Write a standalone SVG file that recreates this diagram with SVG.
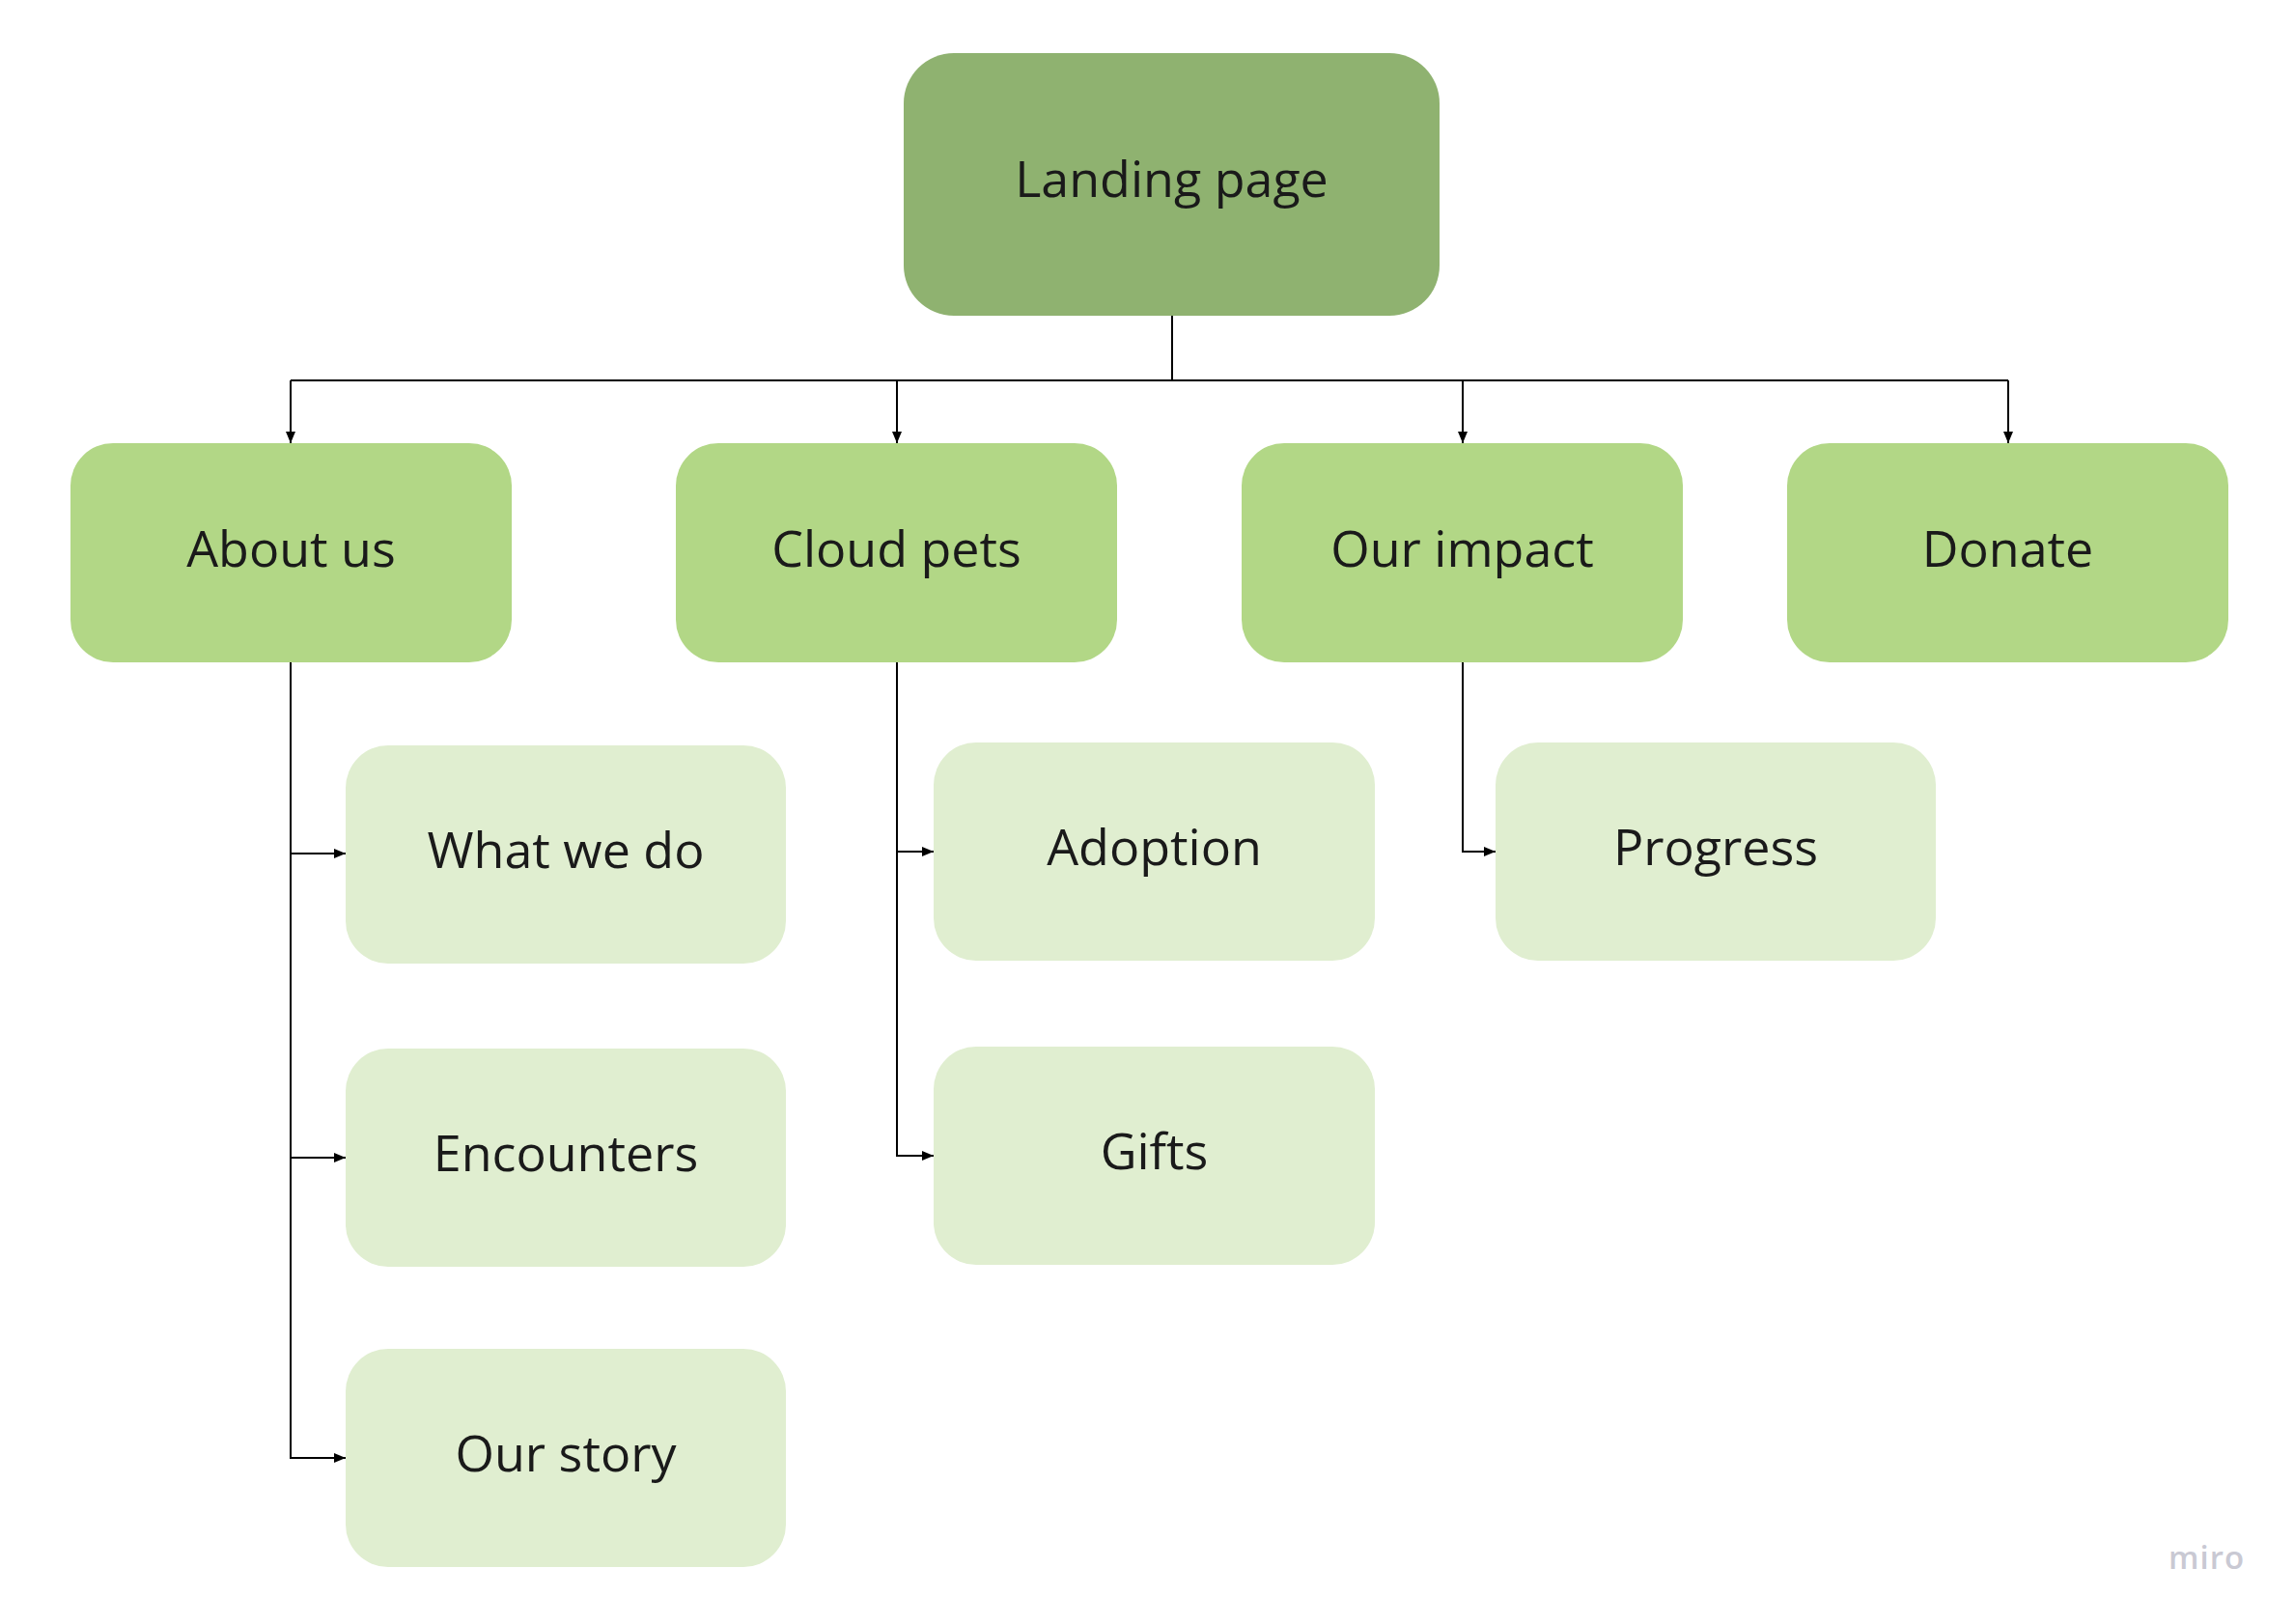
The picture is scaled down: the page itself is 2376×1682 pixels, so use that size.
<svg xmlns="http://www.w3.org/2000/svg" width="2376" height="1682" viewBox="0 0 2376 1682">
<style>
.lbl{font-family:"Open Sans","Noto Sans","Liberation Sans",sans-serif;font-size:52px;fill:#1a1a1a;text-anchor:middle}
.root{fill:#8fb270}
.l2{fill:#b2d786}
.l3{fill:#e0eed0}
.conn{fill:none;stroke:#000;stroke-width:2}
.logo{font-family:"Open Sans","Noto Sans",sans-serif;font-size:33px;font-weight:600;fill:#c9c9d3;letter-spacing:1px}
</style>
<defs>
<marker id="arr" viewBox="0 0 12 10" refX="12" refY="5" markerWidth="12" markerHeight="10" markerUnits="userSpaceOnUse" orient="auto">
<path d="M0,0 L12,5 L0,10 Z" fill="#000"/>
</marker>
</defs>
<rect width="2376" height="1682" fill="#fff"/>
<g id="connectors">
<path class="conn" d="M1214,327 V394"/>
<path class="conn" d="M301,394 H2080"/>
<path class="conn" d="M301,394 V459" marker-end="url(#arr)"/>
<path class="conn" d="M929,394 V459" marker-end="url(#arr)"/>
<path class="conn" d="M1515,394 V459" marker-end="url(#arr)"/>
<path class="conn" d="M2080,394 V459" marker-end="url(#arr)"/>
<path class="conn" d="M301,686 V1510 H358" marker-end="url(#arr)"/>
<path class="conn" d="M301,884 H358" marker-end="url(#arr)"/>
<path class="conn" d="M301,1199 H358" marker-end="url(#arr)"/>
<path class="conn" d="M929,686 V1197 H967" marker-end="url(#arr)"/>
<path class="conn" d="M929,882 H967" marker-end="url(#arr)"/>
<path class="conn" d="M1515,686 V882 H1549" marker-end="url(#arr)"/>
</g>
<g id="landing"><rect class="root" x="936" y="55" width="555" height="272" rx="52"/><text class="lbl" x="1213.5" y="204">Landing page</text></g>
<g id="about"><rect class="l2" x="73" y="459" width="457" height="227" rx="44"/><text class="lbl" x="301.5" y="587">About us</text></g>
<g id="cloudpets"><rect class="l2" x="700" y="459" width="457" height="227" rx="44"/><text class="lbl" x="928.5" y="587">Cloud pets</text></g>
<g id="impact"><rect class="l2" x="1286" y="459" width="457" height="227" rx="44"/><text class="lbl" x="1514.5" y="587">Our impact</text></g>
<g id="donate"><rect class="l2" x="1851" y="459" width="457" height="227" rx="44"/><text class="lbl" x="2079.5" y="587">Donate</text></g>
<g id="whatwedo"><rect class="l3" x="358" y="772" width="456" height="226" rx="44"/><text class="lbl" x="586" y="899">What we do</text></g>
<g id="encounters"><rect class="l3" x="358" y="1086" width="456" height="226" rx="44"/><text class="lbl" x="586" y="1213">Encounters</text></g>
<g id="ourstory"><rect class="l3" x="358" y="1397" width="456" height="226" rx="44"/><text class="lbl" x="586" y="1524">Our story</text></g>
<g id="adoption"><rect class="l3" x="967" y="769" width="457" height="226" rx="44"/><text class="lbl" x="1195.5" y="896">Adoption</text></g>
<g id="gifts"><rect class="l3" x="967" y="1084" width="457" height="226" rx="44"/><text class="lbl" x="1195.5" y="1211">Gifts</text></g>
<g id="progress"><rect class="l3" x="1549" y="769" width="456" height="226" rx="44"/><text class="lbl" x="1777" y="896">Progress</text></g>
<text class="logo" x="2246" y="1625">miro</text>
</svg>
